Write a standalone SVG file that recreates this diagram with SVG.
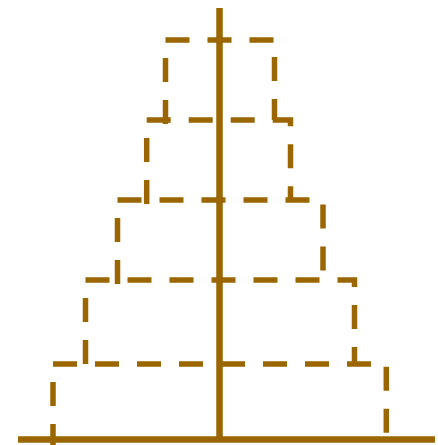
<svg xmlns="http://www.w3.org/2000/svg" width="438" height="445" viewBox="0 0 438 445">
  <style>
    .lvl { fill: none; stroke: #9b6600; stroke-width: 5.5; stroke-dasharray: 24 18; stroke-linecap: butt; stroke-linejoin: miter; }
    .axis { fill: none; stroke: #9b6600; stroke-width: 6.5; }
  </style>
  <rect width="438" height="445" fill="#ffffff"/>
  <g id="level1"><path class="lvl" d="M165.5,124 V40 H274.5 V120"/></g>
  <g id="level2"><path class="lvl" d="M146.7,204 V120 H290.5 V200"/></g>
  <g id="level3"><path class="lvl" d="M117.5,284 V200 H323 V280"/></g>
  <g id="level4"><path class="lvl" d="M85.5,364 V280 H354.5 V364"/></g>
  <g id="level5"><path class="lvl" d="M53,448 V364 H386.3 V440"/></g>
  <g id="connectors">
    <line class="axis" x1="219.5" y1="8" x2="219.5" y2="440"/>
    <line class="axis" x1="18" y1="439.5" x2="435" y2="439.5"/>
  </g>
</svg>
